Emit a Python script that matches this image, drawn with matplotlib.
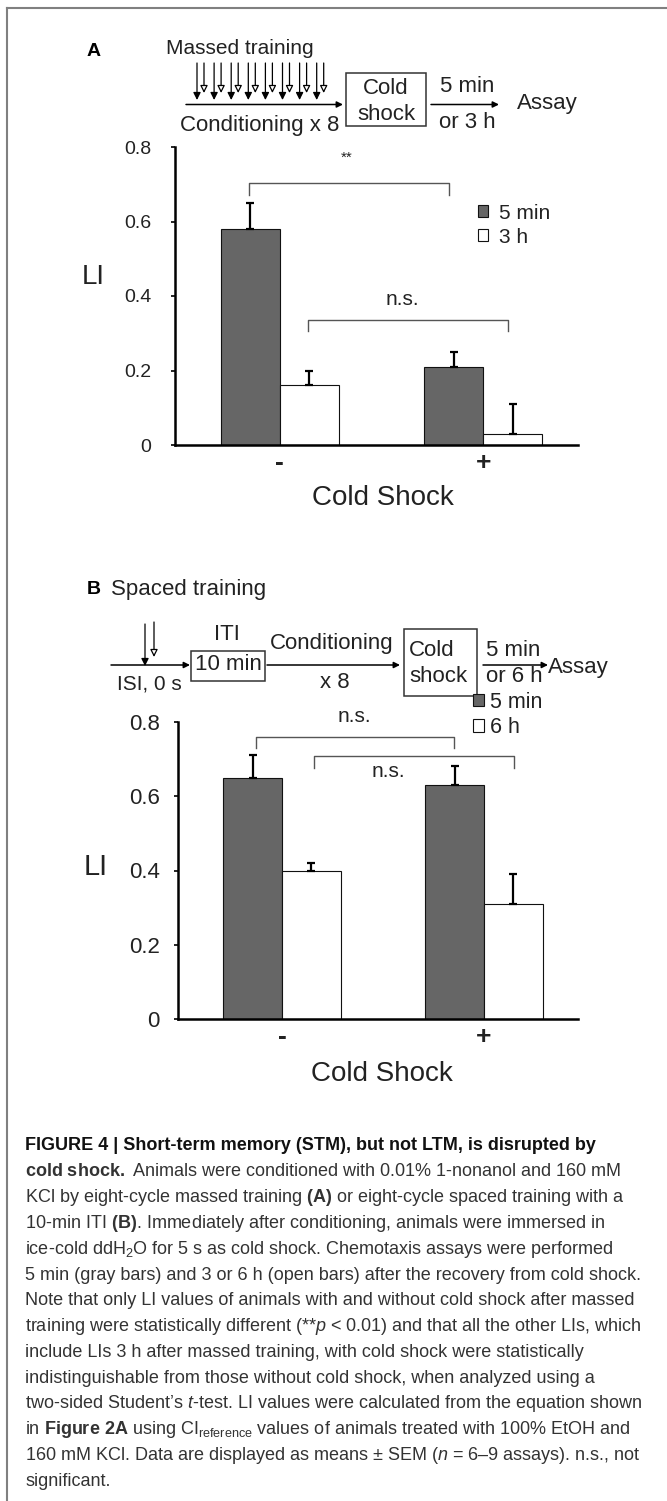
import matplotlib
matplotlib.use("Agg")
import matplotlib.pyplot as plt
from matplotlib.patches import Rectangle
import numpy as np

plt.rcParams['font.family'] = ['Liberation Sans', 'DejaVu Sans']
plt.rcParams['mathtext.fontset'] = 'custom'
plt.rcParams['mathtext.rm'] = 'Liberation Sans'
plt.rcParams['mathtext.it'] = 'Liberation Sans:italic'
plt.rcParams['mathtext.bf'] = 'Liberation Sans:bold'

# ---- data ------------------------------------------------------------------
groups = ['-', '+']                      # cold shock absent / present
yticks = [0, 0.2, 0.4, 0.6, 0.8]
ytick_labels = ['0', '0.2', '0.4', '0.6', '0.8']

# panel A: massed training
a_5min = [0.58, 0.21]
a_5min_err = [0.07, 0.04]
a_late = [0.16, 0.03]
a_late_err = [0.04, 0.08]
a_labels = ['5 min', '3 h']

# panel B: spaced training
b_5min = [0.65, 0.63]
b_5min_err = [0.06, 0.05]
b_late = [0.40, 0.31]
b_late_err = [0.02, 0.08]
b_labels = ['5 min', '6 h']

W, H = 667, 1501
GRAY = '#666666'
TXT = '#222222'

fig = plt.figure(figsize=(W / 100, H / 100), dpi=100)

# overlay in pixel coordinates for the frame, schematics and caption
ov = fig.add_axes([0, 0, 1, 1])
ov.set_xlim(0, W)
ov.set_ylim(H, 0)
ov.axis('off')
ov.patch.set_alpha(0)

ov.plot([7, W], [8, 8], color='#808080', lw=1.5)
ov.plot([7, 7], [8, H], color='#808080', lw=1.5)


def px_axes(left, right, top, bottom):
    return fig.add_axes([left / W, 1 - bottom / H, (right - left) / W, (bottom - top) / H])


def arrow(x0, x1, y, head=9):
    ov.annotate('', xy=(x1, y), xytext=(x0, y),
                arrowprops=dict(arrowstyle='-|>', color='k', lw=1.1,
                                mutation_scale=head, shrinkA=0, shrinkB=0))


def down_arrow(x, y0, y1, filled=True):
    ov.annotate('', xy=(x, y1), xytext=(x, y0),
                arrowprops=dict(arrowstyle='-|>', lw=0.9, mutation_scale=11,
                                facecolor='k' if filled else 'white',
                                edgecolor='k', shrinkA=0, shrinkB=0))


def bar_panel(ax, five, five_err, late, late_err, labels, tickfs, pad):
    x = np.arange(len(groups))
    w = 0.29
    b1 = ax.bar(x - w / 2, five, w, color=GRAY, edgecolor='#111111', lw=0.8, label=labels[0])
    b2 = ax.bar(x + w / 2, late, w, color='white', edgecolor='#111111', lw=0.8, label=labels[1])
    ax.errorbar(x - w / 2, five, yerr=[np.zeros(len(five)), five_err], fmt='none',
                ecolor='k', elinewidth=1.6, capsize=3, capthick=1.6)
    ax.errorbar(x + w / 2, late, yerr=[np.zeros(len(late)), late_err], fmt='none',
                ecolor='k', elinewidth=1.6, capsize=3, capthick=1.6)
    ax.set_xlim(-0.515, 1.465)
    ax.set_ylim(0, 0.8)
    ax.set_yticks(yticks, ytick_labels, fontsize=tickfs, color=TXT)
    ax.set_xticks(x, groups, fontsize=19, fontweight='bold', color=TXT)
    ax.tick_params(axis='x', length=0, pad=4)
    ax.tick_params(axis='y', length=3, width=1.2, pad=pad, direction='out')
    for s in ['top', 'right']:
        ax.spines[s].set_visible(False)
    ax.spines['left'].set_linewidth(1.8)
    ax.spines['bottom'].set_linewidth(1.8)
    ax.patch.set_alpha(0)
    return b1, b2


def bracket(ax, x0, x1, y, drop):
    ax.plot([x0, x0, x1, x1], [y - drop, y, y, y - drop], color='#555555', lw=1.0, clip_on=False)


# ---- panel A schematic -------------------------------------------------------
ov.text(94, 52, 'A', fontsize=14, fontweight='bold', ha='center', va='center', color='k')
ov.text(240, 49, 'Massed training', fontsize=15, ha='center', va='center', color=TXT)
arrow(186, 343, 104.5)
for i in range(8):
    xa = 197 + i * 17.1
    down_arrow(xa, 63, 100, True)
    down_arrow(xa + 7, 63, 93, False)
ov.text(260, 126, 'Conditioning x 8', fontsize=16, ha='center', va='center', color=TXT)
ov.add_patch(Rectangle((346, 73), 80, 53, fill=False, ec='#333333', lw=1.1))
ov.text(386, 88, 'Cold', fontsize=16, ha='center', va='center', color=TXT)
ov.text(386, 114, 'shock', fontsize=16, ha='center', va='center', color=TXT)
ov.text(467, 87, '5 min', fontsize=16, ha='center', va='center', color=TXT)
arrow(431, 499, 104.5)
ov.text(467, 123, 'or 3 h', fontsize=16, ha='center', va='center', color=TXT)
ov.text(517, 103, 'Assay', fontsize=16, ha='left', va='center', color=TXT)

# ---- panel A bars -------------------------------------------------------------
axA = px_axes(175, 578, 147, 445)
bar_panel(axA, a_5min, a_5min_err, a_late, a_late_err, a_labels, 14, 14)
bracket(axA, -0.15, 0.83, 0.704, 0.033)
axA.text(0.33, 0.77, '**', ha='center', va='center', fontsize=11, color=TXT)
bracket(axA, 0.14, 1.12, 0.336, 0.03)
axA.text(0.60, 0.39, 'n.s.', ha='center', va='center', fontsize=15, color=TXT)
axA.set_ylabel('LI', fontsize=20, rotation=0, ha='center', va='center', color=TXT)
axA.yaxis.set_label_coords(-0.203, 0.564)
axA.set_xlabel('Cold Shock', fontsize=20, color=TXT, va='top')
axA.xaxis.set_label_coords(0.516, -0.135)
axA.legend(loc='upper left', bbox_to_anchor=(0.752, 0.81), frameon=False, fontsize=15,
           handlelength=0.5, handleheight=0.5, handletextpad=0.5, labelspacing=0.25,
           borderpad=0, borderaxespad=0, labelcolor=TXT)

# ---- panel B schematic -------------------------------------------------------
ov.text(94, 590, 'B', fontsize=14, fontweight='bold', ha='center', va='center', color='k')
ov.text(111, 590, 'Spaced training', fontsize=16, ha='left', va='center', color=TXT)
arrow(111, 190, 665)
down_arrow(145, 624, 666, True)
down_arrow(154, 622, 657, False)
ov.text(149, 684, 'ISI, 0 s', fontsize=15, ha='center', va='center', color=TXT)
ov.add_patch(Rectangle((191, 651), 74, 30, fill=False, ec='#333333', lw=1.1))
ov.text(228, 665, '10 min', fontsize=16, ha='center', va='center', color=TXT)
ov.text(227, 634, 'ITI', fontsize=16, ha='center', va='center', color=TXT)
arrow(267, 400, 665)
ov.text(332, 644, 'Conditioning', fontsize=16, ha='center', va='center', color=TXT)
ov.text(335, 682, 'x 8', fontsize=16, ha='center', va='center', color=TXT)
ov.add_patch(Rectangle((404, 629), 73, 67, fill=False, ec='#333333', lw=1.1))
ov.text(409, 650, 'Cold', fontsize=16, ha='left', va='center', color=TXT)
ov.text(409, 677, 'shock', fontsize=16, ha='left', va='center', color=TXT)
ov.text(486, 650, '5 min', fontsize=16, ha='left', va='center', color=TXT)
arrow(483, 548, 665)
ov.text(486, 677, 'or 6 h', fontsize=16, ha='left', va='center', color=TXT)
ov.text(548, 668, 'Assay', fontsize=16, ha='left', va='center', color=TXT)

# ---- panel B bars -------------------------------------------------------------
axB = px_axes(178, 578, 721.7, 1019.3)
bar_panel(axB, b_5min, b_5min_err, b_late, b_late_err, b_labels, 16, 10)
bracket(axB, -0.13, 0.85, 0.758, 0.03)
axB.text(0.36, 0.815, 'n.s.', ha='center', va='center', fontsize=15, color=TXT)
bracket(axB, 0.16, 1.15, 0.709, 0.033)
axB.text(0.525, 0.665, 'n.s.', ha='center', va='center', fontsize=15, color=TXT, zorder=5)
axB.set_ylabel('LI', fontsize=21, rotation=0, ha='center', va='center', color=TXT)
axB.yaxis.set_label_coords(-0.205, 0.512)
axB.set_xlabel('Cold Shock', fontsize=20, color=TXT, va='top')
axB.xaxis.set_label_coords(0.51, -0.14)
axB.legend(loc='upper left', bbox_to_anchor=(0.737, 1.10), frameon=False, fontsize=15.5,
           handlelength=0.5, handleheight=0.5, handletextpad=0.3, labelspacing=0.2,
           borderpad=0, borderaxespad=0, labelcolor=TXT)

# ---- caption --------------------------------------------------------------------
caption = [
    'FIGURE 4 | Short-term memory (STM), but not LTM, is disrupted by',
    r'$\bf{cold\ shock.}$ Animals were conditioned with 0.01% 1-nonanol and 160 mM',
    r'KCl by eight-cycle massed training $\bf{(A)}$ or eight-cycle spaced training with a',
    r'10-min ITI $\bf{(B)}$. Immediately after conditioning, animals were immersed in',
    r'ice-cold ddH$_2$O for 5 s as cold shock. Chemotaxis assays were performed',
    '5 min (gray bars) and 3 or 6 h (open bars) after the recovery from cold shock.',
    'Note that only LI values of animals with and without cold shock after massed',
    r'training were statistically different (**$\it{p}$ < 0.01) and that all the other LIs, which',
    'include LIs 3 h after massed training, with cold shock were statistically',
    'indistinguishable from those without cold shock, when analyzed using a',
    r'two-sided Student’s $\it{t}$-test. LI values were calculated from the equation shown',
    r'in $\bf{Figure\ 2A}$ using CI$_{\rm{reference}}$ values of animals treated with 100% EtOH and',
    r'160 mM KCl. Data are displayed as means ± SEM ($\it{n}$ = 6–9 assays). n.s., not',
    'significant.',
]
for i, line in enumerate(caption):
    bold = i == 0
    ov.text(25, 1146 + i * 25.8, line, fontsize=13, ha='left', va='center',
            color='#111111' if bold else '#333333', fontweight='bold' if bold else 'normal')

fig.savefig('out.png', dpi=100)
